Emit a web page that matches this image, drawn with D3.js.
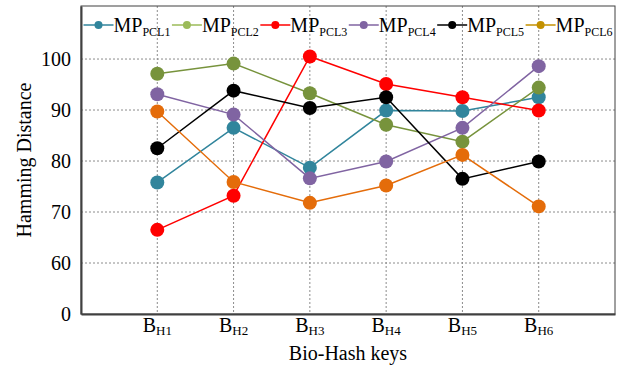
<!DOCTYPE html>
<html>
<head>
<meta charset="utf-8">
<script src="https://cdn.jsdelivr.net/npm/d3@7"></script>
<style>
  body { margin: 0; background: #fff; }
  text { font-family: "Liberation Serif", "DejaVu Serif", serif; fill: #000; }
</style>
</head>
<body>
<svg id="chart" width="630" height="368"></svg>
<script>
// categories and tick labels
var keys = ["H1", "H2", "H3", "H4", "H5", "H6"];
var yTicks = [0, 60, 70, 80, 90, 100];

// series values
var pcl1 = [75.8, 86.5, 78.7, 89.9, 89.8, 92.5];
var pcl2 = [97.1, 99.1, 93.3, 87.1, 83.8, 94.4];
var pcl3 = [66.5, 73.2, 100.5, 95.1, 92.5, 89.9];
var pcl4 = [93.1, 89.1, 76.6, 79.9, 86.5, 98.6];
var pcl5 = [82.5, 93.8, 90.4, 92.5, 76.5, 79.9];
var pcl6 = [89.7, 75.9, 71.8, 75.2, 81.2, 71.1];

var seriesNames = ["PCL1", "PCL2", "PCL3", "PCL4", "PCL5", "PCL6"];
var lineColors = ["#31859c", "#77933c", "#ff0000", "#8064a2", "#000000", "#e46c0a"];
var legendColors = ["#31859c", "#9bbb59", "#ff0000", "#8064a2", "#000000", "#c39100"];

var series = [pcl1, pcl2, pcl3, pcl4, pcl5, pcl6];

var svg = d3.select("#chart");
var mLeft = 81, mRight = 615, mTop = 6, mBottom = 314;

var x = d3.scalePoint().domain(keys).range([mLeft, mRight]).padding(1);
// broken axis: the 0 tick sits where 50 would be
var y = d3.scaleLinear().domain([50, 110.4]).range([mBottom, mTop]);
function yPos(v) { return y(v < 60 ? 50 : v); }

// grid
svg.append("g").selectAll("line")
  .data(yTicks.filter(function (d) { return d > 0; }))
  .enter().append("line")
  .attr("x1", mLeft).attr("x2", mRight)
  .attr("y1", function (d) { return yPos(d); })
  .attr("y2", function (d) { return yPos(d); })
  .attr("stroke", "#8c8c8c").attr("stroke-width", 1)
  .attr("stroke-dasharray", "2,2");

svg.append("g").selectAll("line")
  .data(keys)
  .enter().append("line")
  .attr("x1", function (d) { return x(d); })
  .attr("x2", function (d) { return x(d); })
  .attr("y1", mTop).attr("y2", mBottom)
  .attr("stroke", "#8c8c8c").attr("stroke-width", 1)
  .attr("stroke-dasharray", "2,2");

// frame
svg.append("rect")
  .attr("x", mLeft).attr("y", mTop)
  .attr("width", mRight - mLeft).attr("height", mBottom - mTop)
  .attr("fill", "none").attr("stroke", "#404040").attr("stroke-width", 1);

// y axis
var yAxis = svg.append("g")
  .attr("transform", "translate(" + mLeft + ",0)")
  .call(d3.axisLeft(y)
    .tickValues(yTicks.map(function (d) { return d < 60 ? 50 : d; }))
    .tickFormat(function (d) { return d === 50 ? "0" : d; })
    .tickSize(0).tickPadding(10));
yAxis.select(".domain").attr("stroke", "#404040").attr("stroke-width", 2);
yAxis.selectAll("text").style("font-size", "20px")
  .style("font-family", "'Liberation Serif', serif").attr("fill", "#000");

// x axis
var xAxis = svg.append("g")
  .attr("transform", "translate(0," + mBottom + ")")
  .call(d3.axisBottom(x).tickSize(0).tickFormat(""));
xAxis.select(".domain").attr("stroke", "#404040").attr("stroke-width", 2);

var xl = svg.append("g").selectAll("text")
  .data(keys)
  .enter().append("text")
  .attr("y", 332)
  .attr("text-anchor", "middle")
  .attr("x", function (d) { return x(d); })
  .style("font-size", "20px");
xl.append("tspan").text("B");
xl.append("tspan").attr("dy", 3).style("font-size", "13px")
  .text(function (d) { return d; });

// axis titles
svg.append("text")
  .attr("x", (mLeft + mRight) / 2).attr("y", 360)
  .attr("text-anchor", "middle").style("font-size", "20px")
  .text("Bio-Hash keys");

svg.append("text")
  .attr("transform", "translate(31," + (mTop + mBottom) / 2 + ") rotate(-90)")
  .attr("text-anchor", "middle").style("font-size", "20px")
  .text("Hamming Distance");

// lines and markers
var line = d3.line()
  .x(function (d, i) { return x(keys[i]); })
  .y(function (d) { return yPos(d); });

series.forEach(function (vals, s) {
  var g = svg.append("g");
  g.append("path")
    .datum(vals)
    .attr("d", line)
    .attr("fill", "none")
    .attr("stroke", lineColors[s])
    .attr("stroke-width", 1.5);
  g.selectAll("circle")
    .data(vals)
    .enter().append("circle")
    .attr("cx", function (d, i) { return x(keys[i]); })
    .attr("cy", function (d) { return yPos(d); })
    .attr("r", 7)
    .attr("fill", lineColors[s]);
});

// legend
var lx = 83.5, ly = 25;
seriesNames.forEach(function (name, s) {
  var g = svg.append("g");
  g.append("line")
    .attr("x1", lx).attr("x2", lx + 30)
    .attr("y1", ly).attr("y2", ly)
    .attr("stroke", legendColors[s]).attr("stroke-width", 1.5);
  g.append("circle")
    .attr("cx", lx + 15).attr("cy", ly).attr("r", 4)
    .attr("fill", legendColors[s]);
  var t = g.append("text")
    .attr("x", lx + 30).attr("y", ly + 7)
    .style("font-size", "20px");
  t.append("tspan").text("MP");
  t.append("tspan").attr("dy", 4).style("font-size", "12px").text(name);
  lx += 30 + t.node().getComputedTextLength() + 1.5;
});
</script>
</body>
</html>
